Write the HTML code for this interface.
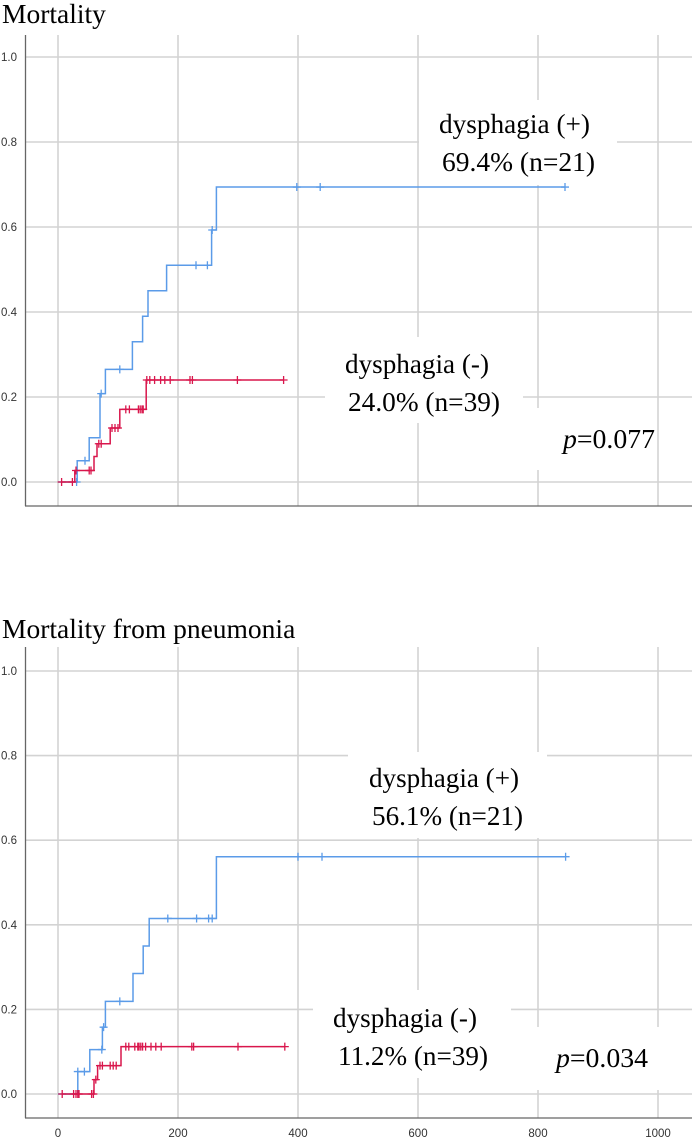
<!DOCTYPE html>
<html><head><meta charset="utf-8"><style>
html,body{margin:0;padding:0;background:#fff;}
svg{display:block;font-family:"Liberation Serif",serif;}
.tick{font-family:"Liberation Sans",sans-serif;font-size:11.5px;fill:#333;}
</style></head><body>
<svg id="c" width="693" height="1139" viewBox="0 0 693 1139" xmlns="http://www.w3.org/2000/svg"></svg>
<script>
// ---- data ----
const yTicks = [0, 0.2, 0.4, 0.6, 0.8, 1.0];
const xTicks = [0, 200, 400, 600, 800, 1000];
// Chart 1: Mortality
const c1PosTimes = [0, 32, 52, 70, 79, 124, 141, 150, 181, 256, 264, 845];
const c1PosVals  = [0, 0.05, 0.104, 0.208, 0.265, 0.33, 0.39, 0.45, 0.51, 0.593, 0.694, 0.694];
const c1PosCens  = [31, 45, 72, 103, 230, 249, 257, 398, 437, 845];
const c1NegTimes = [6, 28, 60, 65, 87, 103, 147, 376];
const c1NegVals  = [0, 0.027, 0.06, 0.09, 0.127, 0.171, 0.24, 0.24];
const c1NegCens  = [6, 24, 30, 52, 55, 68, 72, 90, 95, 100, 113, 119, 134, 137, 140, 142, 148, 153, 161, 171, 178, 187, 220, 224, 299, 376];
// Chart 2: Mortality from pneumonia
const c2PosTimes = [0, 33, 53, 74, 79, 125, 142, 152, 264, 846];
const c2PosVals  = [0, 0.053, 0.105, 0.158, 0.219, 0.285, 0.35, 0.415, 0.561, 0.561];
const c2PosCens  = [33, 44, 73, 76, 103, 183, 231, 251, 257, 400, 440, 846];
const c2NegTimes = [7, 60, 66, 105, 378];
const c2NegVals  = [0, 0.034, 0.067, 0.112, 0.112];
const c2NegCens  = [7, 26, 30, 33, 35, 56, 59, 63, 70, 74, 87, 92, 97, 113, 118, 128, 133, 135, 138, 141, 146, 155, 163, 172, 223, 226, 300, 378];

const NS = "http://www.w3.org/2000/svg";
const svg = document.getElementById('c');
function mk(tag, attrs, parent){
  const e = document.createElementNS(NS, tag);
  for (const k in attrs) e.setAttribute(k, attrs[k]);
  (parent||svg).appendChild(e);
  return e;
}
const BLUE = "#5b9be8", RED = "#d9164c", GRID = "#d3d3d3";

function drawChart(cfg){
  const g = mk('g', {});
  
  
  const xS = t => 58 + t * 0.6;
  const yS = v => cfg.y0 - v * (cfg.y0 - cfg.y1);
  // title
  const title = mk('text', {x: 2, y: cfg.titleY, 'font-size': 27.5, fill: '#000'}, g);
  title.textContent = cfg.title;
  
  
  // gridlines
  yTicks.forEach(v => {
    const l = mk('line', {x1: 26, x2: 692, y1: yS(v), y2: yS(v), stroke: GRID, 'stroke-width': 1.6}, g);
    
    
    const t = mk('text', {x: 1, y: yS(v) + 4, class: 'tick'}, g);
    t.textContent = v.toFixed(1);
    
    
  });
  xTicks.forEach(v => {
    const l = mk('line', {x1: xS(v), x2: xS(v), y1: cfg.top, y2: cfg.axisY, stroke: GRID, 'stroke-width': 1.6}, g);
    
    
    if (cfg.xLabels) {
      const t = mk('text', {x: xS(v), y: cfg.axisY + 19, class: 'tick', 'text-anchor': 'middle'}, g);
      t.textContent = v;
      
      
    }
  });
  // axes
  const ya = mk('line', {x1: 25.5, x2: 25.5, y1: cfg.top, y2: cfg.axisY, stroke: '#666', 'stroke-width': 1.3}, g);
  
  
  const xa = mk('line', {x1: 25, x2: 692, y1: cfg.axisY, y2: cfg.axisY, stroke: '#666', 'stroke-width': 1.3}, g);
  
  
  // white label boxes
  cfg.boxes.forEach(b => {
    const r = mk('rect', {x: b[0], y: b[1], width: b[2], height: b[3], fill: '#fff'}, g);
    
    
  });
  // series
  function series(times, vals, cens, color, nm){
    const sg = mk('g', {}, g);
    
    
    let d = 'M' + xS(times[0]) + ' ' + yS(vals[0]);
    for (let i = 1; i < times.length; i++) {
      d += ' H' + xS(times[i]) + ' V' + yS(vals[i]);
    }
    const p = mk('path', {d: d, fill: 'none', stroke: color, 'stroke-width': 1.5}, sg);
    
    
    const valAt = t => { let v = vals[0]; for (let i = 0; i < times.length; i++) if (times[i] <= t) v = vals[i]; return v; };
    cens.forEach(t => {
      const x = xS(t), y = yS(valAt(t));
      const c = mk('path', {d: `M${x-4} ${y} H${x+4} M${x} ${y-4} V${y+4}`, stroke: color, 'stroke-width': 1.3}, sg);
      
      
    });
  }
  series(cfg.pos[0], cfg.pos[1], cfg.pos[2], BLUE, 'dysphagia-positive-series');
  series(cfg.neg[0], cfg.neg[1], cfg.neg[2], RED, 'dysphagia-negative-series');
  // labels: [x-left, baseline, text, name, width]
  cfg.labels.forEach(L => {
    const t = mk('text', {x: L[0], y: L[1], 'font-size': 27, fill: '#000', textLength: L[4], lengthAdjust: 'spacingAndGlyphs'}, g);
    if (L[2].startsWith('p=')) {
      const i = mk('tspan', {'font-style': 'italic'}, t); i.textContent = 'p';
      const r = mk('tspan', {}, t); r.textContent = L[2].slice(1);
    } else t.textContent = L[2];
    
    
  });
}

drawChart({
  name: 'mortality-chart', title: 'Mortality', titleY: 23,
  top: 35, axisY: 506, y0: 482, y1: 57, xLabels: false,
  boxes: [[419, 100, 198, 85], [325, 337, 198, 86], [530, 408, 126, 62]],
  pos: [c1PosTimes, c1PosVals, c1PosCens], neg: [c1NegTimes, c1NegVals, c1NegCens],
  labels: [[439, 133, 'dysphagia (+)', 'label-dysphagia-positive', 151], [442, 171, '69.4% (n=21)', 'label-positive-rate', 153],
           [345, 373, 'dysphagia (-)', 'label-dysphagia-negative', 144], [348, 411, '24.0% (n=39)', 'label-negative-rate', 152],
           [563, 448, 'p=0.077', 'p-value', 92]]
});
drawChart({
  name: 'pneumonia-mortality-chart', title: 'Mortality from pneumonia', titleY: 638,
  top: 647, axisY: 1118, y0: 1094, y1: 671, xLabels: true,
  boxes: [[348, 752, 199, 86], [313, 990, 198, 88], [511, 1027, 150, 63]],
  pos: [c2PosTimes, c2PosVals, c2PosCens], neg: [c2NegTimes, c2NegVals, c2NegCens],
  labels: [[369, 787, 'dysphagia (+)', 'label-dysphagia-positive', 150], [372, 825, '56.1% (n=21)', 'label-positive-rate', 151],
           [333, 1027, 'dysphagia (-)', 'label-dysphagia-negative', 144], [338, 1065, '11.2% (n=39)', 'label-negative-rate', 150],
           [556, 1067, 'p=0.034', 'p-value', 92]]
});
</script>
</body></html>
